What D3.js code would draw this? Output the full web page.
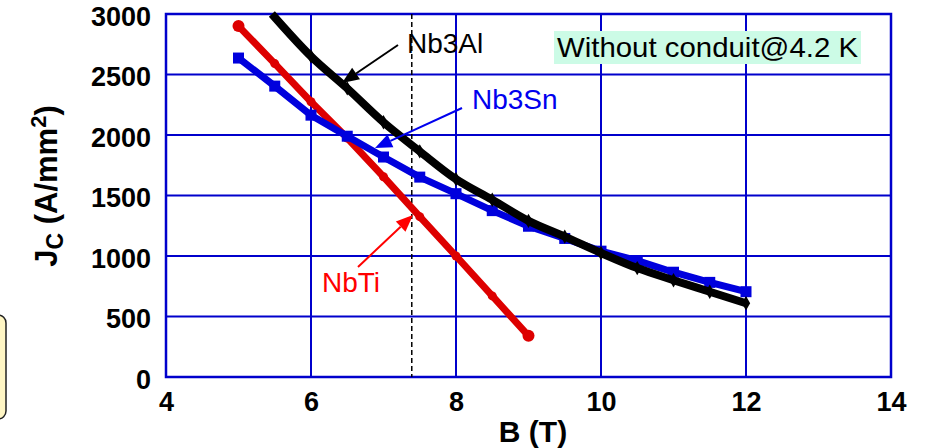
<!DOCTYPE html>
<html><head><meta charset="utf-8">
<script src="https://cdn.jsdelivr.net/npm/d3@7"></script>
<style>html,body{margin:0;padding:0;background:#fff;}svg{display:block;font-family:"Liberation Sans",Arial,sans-serif;}</style>
</head><body>
<svg id="chart" width="925" height="448"></svg>
<script>
// ---- data ----
const xTicks = [4, 6, 8, 10, 12, 14];
const yTicks = [0, 500, 1000, 1500, 2000, 2500, 3000];
const nbtiB = [5, 5.5, 6, 6.5, 7, 7.5, 8, 8.5, 9];
const nbtiJ = [2900, 2590, 2275, 1975, 1655, 1325, 1000, 670, 340];
const nb3snB = [5, 5.5, 6, 6.5, 7, 7.5, 8, 8.5, 9, 9.5, 10, 10.5, 11, 11.5, 12];
const nb3snJ = [2636, 2404, 2164, 1990, 1818, 1652, 1515, 1375, 1246, 1145, 1040, 962, 866, 782, 705];
const nb3alB = [5.46, 6, 6.5, 7, 7.5, 8, 8.5, 9, 9.5, 10, 10.5, 11, 11.5, 12];
const nb3alJ = [3000, 2650, 2385, 2105, 1865, 1635, 1465, 1290, 1160, 1025, 900, 800, 705, 610];
const dashedB = 7.39;
const labels = {nbti: "NbTi", nb3sn: "Nb3Sn", nb3al: "Nb3Al", note: "Without conduit@4.2 K"};

const svg = d3.select("#chart");
const x = d3.scaleLinear().domain([4, 14]).range([166, 891]);
const y = d3.scaleLinear().domain([0, 3000]).range([377, 14]);
const grid = "#0000cc";

// left partial yellow box
svg.append("rect").attr("x", -20).attr("y", 315).attr("width", 26).attr("height", 104)
  .attr("rx", 8).attr("fill", "#fff6c4").attr("stroke", "#222").attr("stroke-width", 1.5);

// gridlines
const g = svg.append("g");
g.selectAll("line.v").data(xTicks).join("line")
  .attr("x1", d => x(d)).attr("x2", d => x(d)).attr("y1", y(3000)).attr("y2", y(0))
  .attr("stroke", grid).attr("stroke-width", 2);
g.selectAll("line.h").data(yTicks).join("line")
  .attr("y1", d => y(d)).attr("y2", d => y(d)).attr("x1", x(4)).attr("x2", x(14))
  .attr("stroke", grid).attr("stroke-width", 2);
g.append("rect").attr("x", x(4)).attr("y", y(3000)).attr("width", x(14) - x(4)).attr("height", y(0) - y(3000))
  .attr("fill", "none").attr("stroke", grid).attr("stroke-width", 2.5);

// axes tick labels via d3 axes
const yAxis = svg.append("g").attr("transform", `translate(${x(4)},0)`)
  .call(d3.axisLeft(y).tickValues(yTicks).tickSize(0).tickPadding(15).tickFormat(d3.format("d")));
yAxis.select(".domain").remove();
yAxis.selectAll("text").attr("font-size", 27).attr("font-weight", "bold").attr("fill", "#000")
  .attr("font-family", "Liberation Sans, Arial, sans-serif").attr("dy", "0.42em");
const xAxis = svg.append("g").attr("transform", `translate(0,${y(0)})`)
  .call(d3.axisBottom(x).tickValues(xTicks).tickSize(0).tickPadding(15).tickFormat(d3.format("d")));
xAxis.select(".domain").remove();
xAxis.selectAll("text").attr("font-size", 27).attr("font-weight", "bold").attr("fill", "#000")
  .attr("font-family", "Liberation Sans, Arial, sans-serif");

// axis titles
svg.append("text").attr("x", 533).attr("y", 442).attr("text-anchor", "middle")
  .attr("font-size", 30).attr("font-weight", "bold").text("B (T)");
const yt = svg.append("text").attr("transform", "translate(57,186) rotate(-90)")
  .attr("text-anchor", "middle").attr("font-size", 31).attr("font-weight", "bold");
yt.append("tspan").text("J");
yt.append("tspan").attr("font-size", 23).attr("dy", 6).text("C");
yt.append("tspan").attr("dy", -6).text(" (A/mm");
yt.append("tspan").attr("font-size", 22).attr("dy", -11).text("2");
yt.append("tspan").attr("dy", 11).text(")");

// dashed vertical line
svg.append("line").attr("x1", x(dashedB)).attr("x2", x(dashedB)).attr("y1", y(3000)).attr("y2", y(0))
  .attr("stroke", "#000").attr("stroke-width", 1.5).attr("stroke-dasharray", "5,3");

// series
const line = d3.line().x(d => x(d[0])).y(d => y(d[1]));
const smooth = d3.line().curve(d3.curveMonotoneX).x(d => x(d[0])).y(d => y(d[1]));
const nbti = nbtiB.map((b, i) => [b, nbtiJ[i]]);
const nb3sn = nb3snB.map((b, i) => [b, nb3snJ[i]]);
const nb3al = nb3alB.map((b, i) => [b, nb3alJ[i]]);

svg.append("path").datum(nbti).attr("d", line).attr("fill", "none").attr("stroke", "#dd0000").attr("stroke-width", 7).attr("stroke-linejoin", "round");
svg.selectAll("circle.nbti").data(nbti).join("circle").attr("cx", d => x(d[0])).attr("cy", d => y(d[1]))
  .attr("r", (d, i) => (i === 0 || i === nbti.length - 1) ? 6 : 4.5).attr("fill", "#dd0000");

svg.append("path").datum(nb3sn).attr("d", line).attr("fill", "none").attr("stroke", "#0000dd").attr("stroke-width", 7).attr("stroke-linejoin", "round");
svg.selectAll("rect.nb3sn").data(nb3sn).join("rect").attr("x", d => x(d[0]) - 5.5).attr("y", d => y(d[1]) - 5.5)
  .attr("width", 11).attr("height", 11).attr("fill", "#0000dd");

svg.append("path").datum(nb3al).attr("d", smooth).attr("fill", "none").attr("stroke", "#000").attr("stroke-width", 8).attr("stroke-linejoin", "round");
svg.selectAll("path.nb3alm").data(nb3al.slice(1)).join("path")
  .attr("d", d3.symbol().type(d3.symbolDiamond).size(60))
  .attr("transform", d => `translate(${x(d[0])},${y(d[1])})`).attr("fill", "#000");

// note box
const note = svg.append("g");
note.append("rect").attr("x", 554).attr("y", 31).attr("width", 307).attr("height", 33).attr("fill", "#ccfbe6");
note.append("text").attr("x", 557).attr("y", 57).attr("font-size", 28).attr("textLength", 301)
  .attr("lengthAdjust", "spacingAndGlyphs").attr("fill", "#000").text(labels.note);

// annotations with arrows
function arrow(x1, y1, x2, y2, color) {
  const ang = Math.atan2(y2 - y1, x2 - x1);
  const L = 17, W = 7;
  const bx = x2 - L * Math.cos(ang), by = y2 - L * Math.sin(ang);
  svg.append("line").attr("x1", x1).attr("y1", y1).attr("x2", bx).attr("y2", by)
    .attr("stroke", color).attr("stroke-width", 2);
  const px = -Math.sin(ang) * W, py = Math.cos(ang) * W;
  svg.append("path").attr("d", `M${x2},${y2}L${bx + px},${by + py}L${bx - px},${by - py}Z`).attr("fill", color);
}
arrow(398, 45, 342, 83, "#000");
arrow(462, 108, 375, 148, "#0000ee");
arrow(358, 267, 413, 215, "#ff0000");

svg.append("text").attr("x", 407).attr("y", 53).attr("font-size", 28).attr("fill", "#000").text(labels.nb3al);
svg.append("text").attr("x", 472).attr("y", 109).attr("font-size", 28).attr("fill", "#0000ee").text(labels.nb3sn);
svg.append("text").attr("x", 322).attr("y", 292).attr("font-size", 28).attr("fill", "#ff0000").text(labels.nbti);
</script>
</body></html>
